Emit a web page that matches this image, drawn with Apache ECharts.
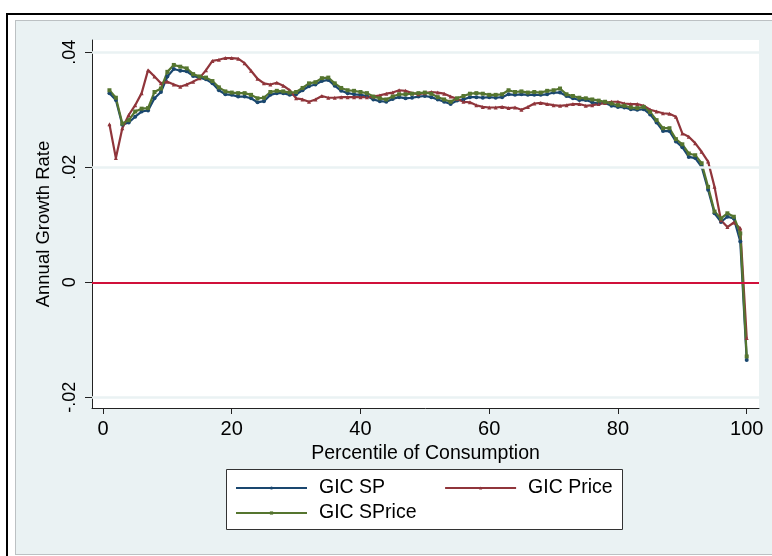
<!DOCTYPE html>
<html>
<head>
<meta charset="utf-8">
<script src="https://cdn.jsdelivr.net/npm/echarts@6/dist/echarts.min.js"></script>
<style>
html,body{margin:0;padding:0;background:#fff;overflow:hidden;width:772px;height:556px;}
#outer{position:absolute;left:6px;top:13px;width:900px;height:700px;border-left:2px solid #000;border-top:2px solid #000;}
#inner{position:absolute;left:15px;top:20px;width:900px;height:535px;background:#EAF2F3;border:1px solid #BCC1C3;box-sizing:border-box;}
#chart{position:absolute;left:0;top:0;width:772px;height:556px;}
</style>
</head>
<body>
<div id="outer"></div>
<div id="inner"></div>
<div id="chart"></div>
<script>
const percentile = [1,2,3,4,5,6,7,8,9,10,11,12,13,14,15,16,17,18,19,20,
21,22,23,24,25,26,27,28,29,30,31,32,33,34,35,36,37,38,39,40,
41,42,43,44,45,46,47,48,49,50,51,52,53,54,55,56,57,58,59,60,
61,62,63,64,65,66,67,68,69,70,71,72,73,74,75,76,77,78,79,80,
81,82,83,84,85,86,87,88,89,90,91,92,93,94,95,96,97,98,99,100];

const gicSP = [0.0329,0.0317,0.0274,0.0278,0.0288,0.0297,0.0299,0.0320,0.0331,0.0358,
0.0371,0.0368,0.0367,0.0359,0.0356,0.0353,0.0346,0.0334,0.0327,0.0326,
0.0323,0.0323,0.0320,0.0313,0.0315,0.0326,0.0329,0.0329,0.0326,0.0327,
0.0334,0.0341,0.0344,0.0350,0.0352,0.0342,0.0333,0.0329,0.0327,0.0326,
0.0324,0.0318,0.0315,0.0314,0.0319,0.0322,0.0320,0.0321,0.0323,0.0324,
0.0322,0.0318,0.0314,0.0310,0.0316,0.0318,0.0322,0.0322,0.0321,0.0322,
0.0321,0.0322,0.0327,0.0326,0.0327,0.0326,0.0326,0.0326,0.0327,0.0330,
0.0330,0.0324,0.0320,0.0317,0.0317,0.0313,0.0311,0.0312,0.0307,0.0305,
0.0304,0.0301,0.0300,0.0301,0.0292,0.0278,0.0263,0.0263,0.0245,0.0235,
0.0218,0.0216,0.0201,0.0161,0.0120,0.0105,0.0114,0.0111,0.0071,-0.0135];

const gicPrice = [0.0275,0.0216,0.0268,0.0291,0.0308,0.0329,0.0369,0.0358,0.0346,0.0349,
0.0344,0.0340,0.0344,0.0349,0.0355,0.0369,0.0385,0.0387,0.0390,0.0390,
0.0389,0.0381,0.0368,0.0354,0.0346,0.0344,0.0347,0.0342,0.0334,0.0320,
0.0318,0.0314,0.0318,0.0324,0.0321,0.0321,0.0322,0.0322,0.0322,0.0322,
0.0322,0.0323,0.0325,0.0328,0.0330,0.0334,0.0333,0.0329,0.0327,0.0329,
0.0331,0.0330,0.0328,0.0323,0.0319,0.0314,0.0313,0.0308,0.0305,0.0304,
0.0304,0.0305,0.0303,0.0304,0.0300,0.0305,0.0311,0.0312,0.0310,0.0308,
0.0307,0.0308,0.0310,0.0310,0.0307,0.0308,0.0310,0.0312,0.0314,0.0314,
0.0311,0.0310,0.0310,0.0307,0.0300,0.0297,0.0294,0.0293,0.0288,0.0259,
0.0253,0.0242,0.0227,0.0210,0.0166,0.0108,0.0096,0.0104,0.0094,-0.0097];

const gicSPrice = [0.0334,0.0321,0.0276,0.0282,0.0297,0.0302,0.0303,0.0331,0.0337,0.0366,
0.0378,0.0375,0.0372,0.0362,0.0358,0.0356,0.0350,0.0339,0.0332,0.0330,
0.0329,0.0329,0.0326,0.0320,0.0321,0.0331,0.0333,0.0332,0.0330,0.0331,
0.0338,0.0346,0.0348,0.0355,0.0356,0.0346,0.0338,0.0334,0.0333,0.0331,
0.0329,0.0323,0.0320,0.0318,0.0323,0.0327,0.0327,0.0328,0.0329,0.0330,
0.0328,0.0322,0.0318,0.0314,0.0320,0.0324,0.0328,0.0329,0.0328,0.0326,
0.0326,0.0327,0.0334,0.0331,0.0332,0.0330,0.0331,0.0330,0.0333,0.0334,
0.0337,0.0327,0.0324,0.0321,0.0320,0.0318,0.0316,0.0314,0.0311,0.0308,
0.0307,0.0304,0.0303,0.0305,0.0296,0.0282,0.0268,0.0268,0.0249,0.0240,
0.0224,0.0221,0.0207,0.0166,0.0123,0.0111,0.0120,0.0114,0.0085,-0.0129];

const xTicks = [0, 20, 40, 60, 80, 100];
const yTicks = [-0.02, 0, 0.02, 0.04];
const gridLines = [-0.02, 0.02, 0.04];
const refLine = 0;

const FONT = '"Liberation Sans", Arial, sans-serif';
const chart = echarts.init(document.getElementById('chart'), null, {renderer: 'canvas'});

function pairs(vals) { return percentile.map((p, i) => [p, vals[i]]); }
function seriesLine(name, vals, color, symbol) {
  return {
    name: name, type: 'line', data: pairs(vals), z: 3,
    symbol: symbol, symbolSize: 4, showSymbol: true, showAllSymbol: true,
    lineStyle: {color: color, width: 2.2},
    itemStyle: {color: color},
    emphasis: {disabled: true}, silent: true
  };
}

chart.setOption({
  animation: false,
  textStyle: {fontFamily: FONT},
  grid: {left: 92, top: 40, right: 13, bottom: 148, show: true, backgroundColor: '#ffffff', borderWidth: 0},
  xAxis: {
    type: 'value', min: -1.71, max: 101.91,
    name: 'Percentile of Consumption', nameLocation: 'middle', nameGap: 25,
    nameTextStyle: {fontSize: 19.5, color: '#000', fontFamily: FONT},
    axisLine: {show: true, onZero: false, lineStyle: {color: '#222', width: 1}},
    axisTick: {show: true, customValues: xTicks, length: 6, lineStyle: {color: '#222'}},
    axisLabel: {customValues: xTicks, fontSize: 20, color: '#000', margin: 11, fontFamily: FONT},
    splitLine: {show: false}
  },
  yAxis: {
    type: 'value', min: -0.02186, max: 0.04214,
    name: 'Annual Growth Rate', nameLocation: 'middle', nameGap: 38,
    nameTextStyle: {fontSize: 18.5, color: '#000', fontFamily: FONT},
    axisLine: {show: true, onZero: false, lineStyle: {color: '#222', width: 1}},
    axisTick: {show: true, customValues: yTicks, length: 7, lineStyle: {color: '#222'}},
    axisLabel: {
      customValues: yTicks, rotate: 90, fontSize: 18, color: '#000', margin: 13, fontFamily: FONT,
      formatter: function (v) { if (v === 0) return '0'; return String(v).replace('0.', '.'); }
    },
    splitLine: {show: false}
  },
  legend: [
    {data: ['GIC SP', 'GIC Price'], left: 235, top: 478, padding: 0, itemWidth: 71, itemHeight: 4, itemGap: 59,
     textStyle: {fontSize: 19.5, color: '#000', fontFamily: FONT, padding: [0, 0, 0, 7]}, selectedMode: false},
    {data: ['GIC SPrice'], left: 235, top: 503, padding: 0, itemWidth: 71, itemHeight: 4,
     textStyle: {fontSize: 19.5, color: '#000', fontFamily: FONT, padding: [0, 0, 0, 7]}, selectedMode: false}
  ],
  graphic: [
    {type: 'rect', z: 1, silent: true, shape: {x: 226.5, y: 469.5, width: 396, height: 60},
     style: {fill: '#ffffff', stroke: '#333', lineWidth: 1}}
  ],
  series: [
    {
      name: 'grid', type: 'line', data: [], z: 1, silent: true,
      markLine: {
        silent: true, symbol: ['none', 'none'], label: {show: false}, animation: false,
        emphasis: {disabled: true},
        data: gridLines.map(v => ({yAxis: v, lineStyle: {color: '#EAF2F3', width: 2.5, type: 'solid'}}))
          .concat([{yAxis: refLine, lineStyle: {color: '#D0103A', width: 2, type: 'solid'}}])
      }
    },
    seriesLine('GIC SP', gicSP, '#1A476F', 'circle'),
    seriesLine('GIC Price', gicPrice, '#90353B', 'triangle'),
    seriesLine('GIC SPrice', gicSPrice, '#55752F', 'rect')
  ]
});
</script>
</body>
</html>
